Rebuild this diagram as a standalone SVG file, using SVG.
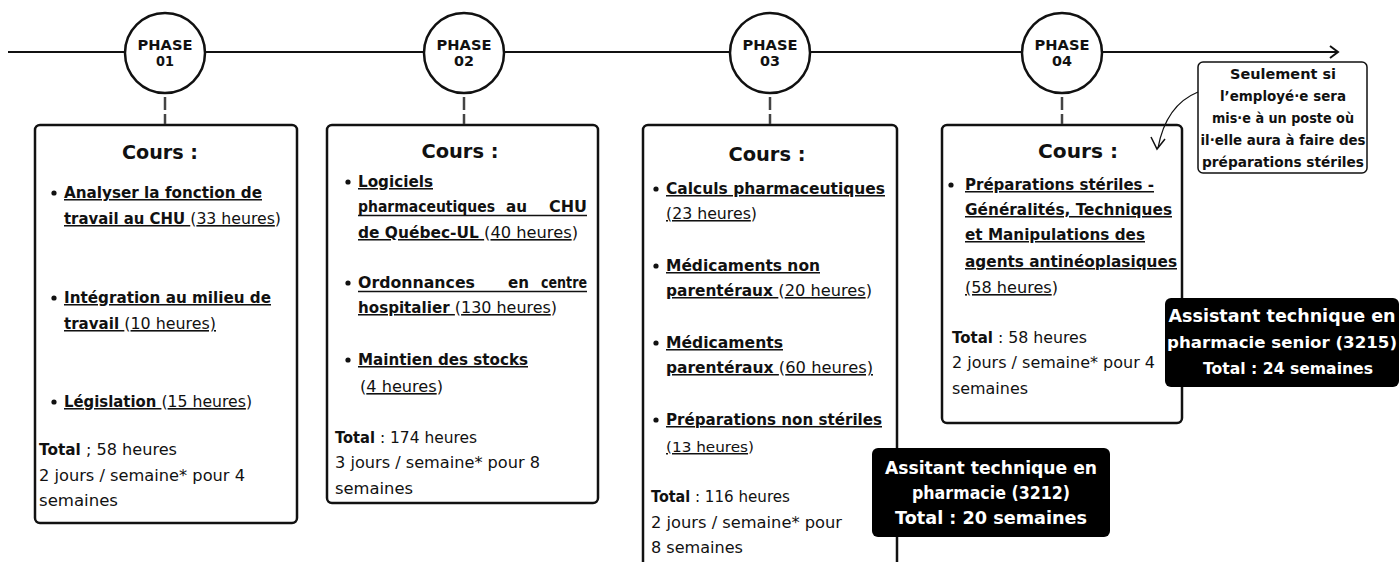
<svg xmlns="http://www.w3.org/2000/svg" width="1399" height="562" viewBox="0 0 1399 562">
<style>
.t{font-family:"DejaVu Sans","Liberation Sans",sans-serif;font-size:16px;fill:#111}
.b{font-weight:bold;font-size:15.2px}
.u{text-decoration:underline}
.h{font-family:"DejaVu Sans","Liberation Sans",sans-serif;font-size:19.5px;font-weight:bold;text-anchor:middle;fill:#111}
.ph{font-family:"DejaVu Sans","Liberation Sans",sans-serif;font-size:14.7px;font-weight:bold;text-anchor:middle;fill:#111}
.box{fill:#fff;stroke:#111;stroke-width:2.5}
.circ{fill:#fff;stroke:#111;stroke-width:2.5}
.dash{stroke:#444;stroke-width:2.5;stroke-dasharray:13 4;fill:none}
.line{stroke:#111;stroke-width:2;fill:none}
.bul{fill:#111}
.ul{stroke:#111;stroke-width:1.4}
.badge{fill:#000}
.bt{font-family:"DejaVu Sans","Liberation Sans",sans-serif;font-size:17.2px;font-weight:bold;fill:#fff;text-anchor:middle}
.ct{font-family:"DejaVu Sans","Liberation Sans",sans-serif;font-size:13.8px;font-weight:bold;fill:#111;text-anchor:middle}
</style>
<rect width="1399" height="562" fill="#fff"/>
<g id="phase1">
<circle class="circ" cx="165" cy="53" r="40"/>
<text class="ph" x="165" y="50" textLength="55" lengthAdjust="spacingAndGlyphs">PHASE</text>
<text class="ph" x="165" y="66" textLength="18" lengthAdjust="spacingAndGlyphs">01</text>
</g>
<g id="phase2">
<circle class="circ" cx="464" cy="53" r="40"/>
<text class="ph" x="464" y="50" textLength="55" lengthAdjust="spacingAndGlyphs">PHASE</text>
<text class="ph" x="464" y="66" textLength="20" lengthAdjust="spacingAndGlyphs">02</text>
</g>
<g id="phase3">
<circle class="circ" cx="770" cy="53" r="40"/>
<text class="ph" x="770" y="50" textLength="55" lengthAdjust="spacingAndGlyphs">PHASE</text>
<text class="ph" x="770" y="66" textLength="20" lengthAdjust="spacingAndGlyphs">03</text>
</g>
<g id="phase4">
<circle class="circ" cx="1062" cy="53" r="40"/>
<text class="ph" x="1062" y="50" textLength="55" lengthAdjust="spacingAndGlyphs">PHASE</text>
<text class="ph" x="1062" y="66" textLength="20" lengthAdjust="spacingAndGlyphs">04</text>
</g>
<g id="box1">
<rect class="box" x="35" y="125" width="262" height="398" rx="5"/>
<text class="h" x="160" y="159" textLength="76" lengthAdjust="spacingAndGlyphs">Cours :</text>
<circle class="bul" cx="54" cy="193" r="2.6"/>
<circle class="bul" cx="54" cy="298" r="2.6"/>
<circle class="bul" cx="54" cy="402" r="2.6"/>
<text class="t" x="64" y="198" textLength="198" lengthAdjust="spacingAndGlyphs"><tspan class="b u">Analyser la fonction de</tspan></text>
<text class="t" x="64" y="224" textLength="217" lengthAdjust="spacingAndGlyphs"><tspan class="b u">travail au CHU </tspan>(<tspan class="u">33 heures</tspan>)</text>
<text class="t" x="64" y="303" textLength="207" lengthAdjust="spacingAndGlyphs"><tspan class="b u">Intégration au milieu de</tspan></text>
<text class="t" x="64" y="329" textLength="152" lengthAdjust="spacingAndGlyphs"><tspan class="b u">travail </tspan>(<tspan class="u">10 heures)</tspan></text>
<text class="t" x="64" y="407" textLength="188" lengthAdjust="spacingAndGlyphs"><tspan class="b u">Législation </tspan>(<tspan class="u">15 heures</tspan>)</text>
<text class="t" x="39" y="455" textLength="138" lengthAdjust="spacingAndGlyphs"><tspan class="b">Total</tspan> ; 58 heures</text>
<text class="t" x="39" y="481" textLength="206" lengthAdjust="spacingAndGlyphs">2 jours / semaine* pour 4</text>
<text class="t" x="39" y="506" textLength="79" lengthAdjust="spacingAndGlyphs">semaines</text>
</g>
<g id="box2">
<rect class="box" x="327" y="125" width="271" height="378" rx="5"/>
<text class="h" x="460" y="158" textLength="77" lengthAdjust="spacingAndGlyphs">Cours :</text>
<circle class="bul" cx="348" cy="182" r="2.6"/>
<circle class="bul" cx="348" cy="283" r="2.6"/>
<circle class="bul" cx="348" cy="360" r="2.6"/>
<text class="t" x="358" y="187" textLength="75" lengthAdjust="spacingAndGlyphs"><tspan class="b u">Logiciels</tspan></text>
<text class="t b" x="358" y="212" textLength="137" lengthAdjust="spacingAndGlyphs">pharmaceutiques</text>
<text class="t b" x="506" y="212" textLength="21" lengthAdjust="spacingAndGlyphs">au</text>
<text class="t b" x="549" y="212" textLength="38" lengthAdjust="spacingAndGlyphs">CHU</text>
<line class="ul" x1="358" y1="215.5" x2="587" y2="215.5"/>
<text class="t" x="358" y="238" textLength="220" lengthAdjust="spacingAndGlyphs"><tspan class="b u">de Québec-UL </tspan>(<tspan class="u">40 heures</tspan>)</text>
<text class="t b" x="358" y="288" textLength="117" lengthAdjust="spacingAndGlyphs">Ordonnances</text>
<text class="t b" x="508" y="288" textLength="21" lengthAdjust="spacingAndGlyphs">en</text>
<text class="t b" x="541" y="288" textLength="46" lengthAdjust="spacingAndGlyphs">centre</text>
<line class="ul" x1="358" y1="291.5" x2="587" y2="291.5"/>
<text class="t" x="358" y="313" textLength="199" lengthAdjust="spacingAndGlyphs"><tspan class="b u">hospitalier </tspan>(<tspan class="u">130 heures</tspan>)</text>
<text class="t" x="358" y="365" textLength="170" lengthAdjust="spacingAndGlyphs"><tspan class="b u">Maintien des stocks</tspan></text>
<text class="t" x="360" y="392" textLength="83" lengthAdjust="spacingAndGlyphs">(<tspan class="u">4 heures</tspan>)</text>
<text class="t" x="335" y="443" textLength="142" lengthAdjust="spacingAndGlyphs"><tspan class="b">Total</tspan> : 174 heures</text>
<text class="t" x="335" y="468" textLength="205" lengthAdjust="spacingAndGlyphs">3 jours / semaine* pour 8</text>
<text class="t" x="335" y="494" textLength="78" lengthAdjust="spacingAndGlyphs">semaines</text>
</g>
<g id="box3">
<rect class="box" x="643" y="125" width="254" height="480" rx="5"/>
<text class="h" x="767" y="161" textLength="77" lengthAdjust="spacingAndGlyphs">Cours :</text>
<circle class="bul" cx="656" cy="189" r="2.6"/>
<circle class="bul" cx="656" cy="266" r="2.6"/>
<circle class="bul" cx="656" cy="343" r="2.6"/>
<circle class="bul" cx="656" cy="420" r="2.6"/>
<text class="t" x="666" y="194" textLength="219" lengthAdjust="spacingAndGlyphs"><tspan class="b u">Calculs pharmaceutiques</tspan></text>
<text class="t" x="666" y="219" textLength="91" lengthAdjust="spacingAndGlyphs" style="font-size:15.4px"><tspan class="u">(23 heures</tspan>)</text>
<text class="t" x="666" y="271" textLength="154" lengthAdjust="spacingAndGlyphs"><tspan class="b u">Médicaments non</tspan></text>
<text class="t" x="666" y="296" textLength="206" lengthAdjust="spacingAndGlyphs"><tspan class="b u">parentéraux </tspan>(<tspan class="u">20 heures</tspan>)</text>
<text class="t" x="666" y="348" textLength="117" lengthAdjust="spacingAndGlyphs"><tspan class="b u">Médicaments</tspan></text>
<text class="t" x="666" y="373" textLength="207" lengthAdjust="spacingAndGlyphs"><tspan class="b u">parentéraux </tspan>(<tspan class="u">60 heures)</tspan></text>
<text class="t" x="666" y="425" textLength="216" lengthAdjust="spacingAndGlyphs"><tspan class="b u">Préparations non stériles</tspan></text>
<text class="t" x="666" y="452" textLength="88" lengthAdjust="spacingAndGlyphs" style="font-size:14.9px"><tspan class="u">(13 heures</tspan>)</text>
<text class="t" x="651" y="502" textLength="139" lengthAdjust="spacingAndGlyphs"><tspan class="b">Total</tspan> : 116 heures</text>
<text class="t" x="651" y="528" textLength="191" lengthAdjust="spacingAndGlyphs">2 jours / semaine* pour</text>
<text class="t" x="651" y="553" textLength="92" lengthAdjust="spacingAndGlyphs">8 semaines</text>
</g>
<g id="box4">
<rect class="box" x="942" y="125" width="240" height="298" rx="5"/>
<text class="h" x="1078" y="158" textLength="80" lengthAdjust="spacingAndGlyphs">Cours :</text>
<circle class="bul" cx="951" cy="185" r="2.6"/>
<text class="t" x="965" y="190" textLength="189" lengthAdjust="spacingAndGlyphs"><tspan class="b u">Préparations stériles -</tspan></text>
<text class="t" x="965" y="215" textLength="207" lengthAdjust="spacingAndGlyphs"><tspan class="b u">Généralités, Techniques</tspan></text>
<text class="t" x="965" y="240" textLength="180" lengthAdjust="spacingAndGlyphs"><tspan class="b u">et Manipulations des</tspan></text>
<text class="t" x="965" y="267" textLength="212" lengthAdjust="spacingAndGlyphs"><tspan class="b u">agents antinéoplasiques</tspan></text>
<text class="t" x="965" y="293" textLength="93" lengthAdjust="spacingAndGlyphs"><tspan class="u">(58 heures</tspan>)</text>
<text class="t" x="952" y="343" textLength="135" lengthAdjust="spacingAndGlyphs"><tspan class="b">Total</tspan> : 58 heures</text>
<text class="t" x="952" y="368" textLength="203" lengthAdjust="spacingAndGlyphs">2 jours / semaine* pour 4</text>
<text class="t" x="952" y="394" textLength="76" lengthAdjust="spacingAndGlyphs">semaines</text>
</g>
<g id="note">
<rect x="1198" y="62" width="169" height="111" rx="5" fill="#fff" stroke="#111" stroke-width="1.5"/>
<text class="ct" x="1283" y="79" textLength="106" lengthAdjust="spacingAndGlyphs">Seulement si</text>
<text class="ct" x="1283" y="101" textLength="126" lengthAdjust="spacingAndGlyphs">l’employé·e sera</text>
<text class="ct" x="1283" y="123" textLength="142" lengthAdjust="spacingAndGlyphs">mis·e à un poste où</text>
<text class="ct" x="1283" y="145" textLength="165" lengthAdjust="spacingAndGlyphs">il·elle aura à faire des</text>
<text class="ct" x="1283" y="167" textLength="162" lengthAdjust="spacingAndGlyphs">préparations stériles</text>
</g>
<g id="badge1">
<rect class="badge" x="872" y="448" width="238" height="89" rx="6"/>
<text class="bt" x="991" y="474" textLength="212" lengthAdjust="spacingAndGlyphs">Assitant technique en</text>
<text class="bt" x="991" y="499" textLength="158" lengthAdjust="spacingAndGlyphs">pharmacie (3212)</text>
<text class="bt" x="991" y="524" textLength="192" lengthAdjust="spacingAndGlyphs">Total : 20 semaines</text>
</g>
<g id="badge2">
<rect class="badge" x="1165" y="298" width="234" height="89" rx="6"/>
<text class="bt" x="1282" y="322" textLength="227" lengthAdjust="spacingAndGlyphs" style="font-size:17px">Assistant technique en</text>
<text class="bt" x="1282" y="348" textLength="230" lengthAdjust="spacingAndGlyphs" style="font-size:16.6px">pharmacie senior (3215)</text>
<text class="bt" x="1288" y="374" textLength="170" lengthAdjust="spacingAndGlyphs" style="font-size:16px">Total : 24 semaines</text>
</g>
<g id="connectors">
<line class="line" x1="8" y1="52" x2="125" y2="52"/>
<line class="line" x1="205" y1="52" x2="424" y2="52"/>
<line class="line" x1="504" y1="52" x2="730" y2="52"/>
<line class="line" x1="810" y1="52" x2="1022" y2="52"/>
<line class="line" x1="1102" y1="52" x2="1338" y2="52"/>
<path class="line" d="M1330,46 L1338,52 L1330,58"/>
<line class="dash" x1="165" y1="97" x2="165" y2="124"/>
<line class="dash" x1="464" y1="97" x2="464" y2="124"/>
<line class="dash" x1="770" y1="97" x2="770" y2="124"/>
<line class="dash" x1="1062" y1="97" x2="1062" y2="124"/>
<path d="M1198,92 Q1166,105 1158,148" fill="none" stroke="#111" stroke-width="1.3"/>
<path d="M1151,137 L1157,149 L1165,139" fill="none" stroke="#111" stroke-width="1.5"/>
</g>
</svg>
